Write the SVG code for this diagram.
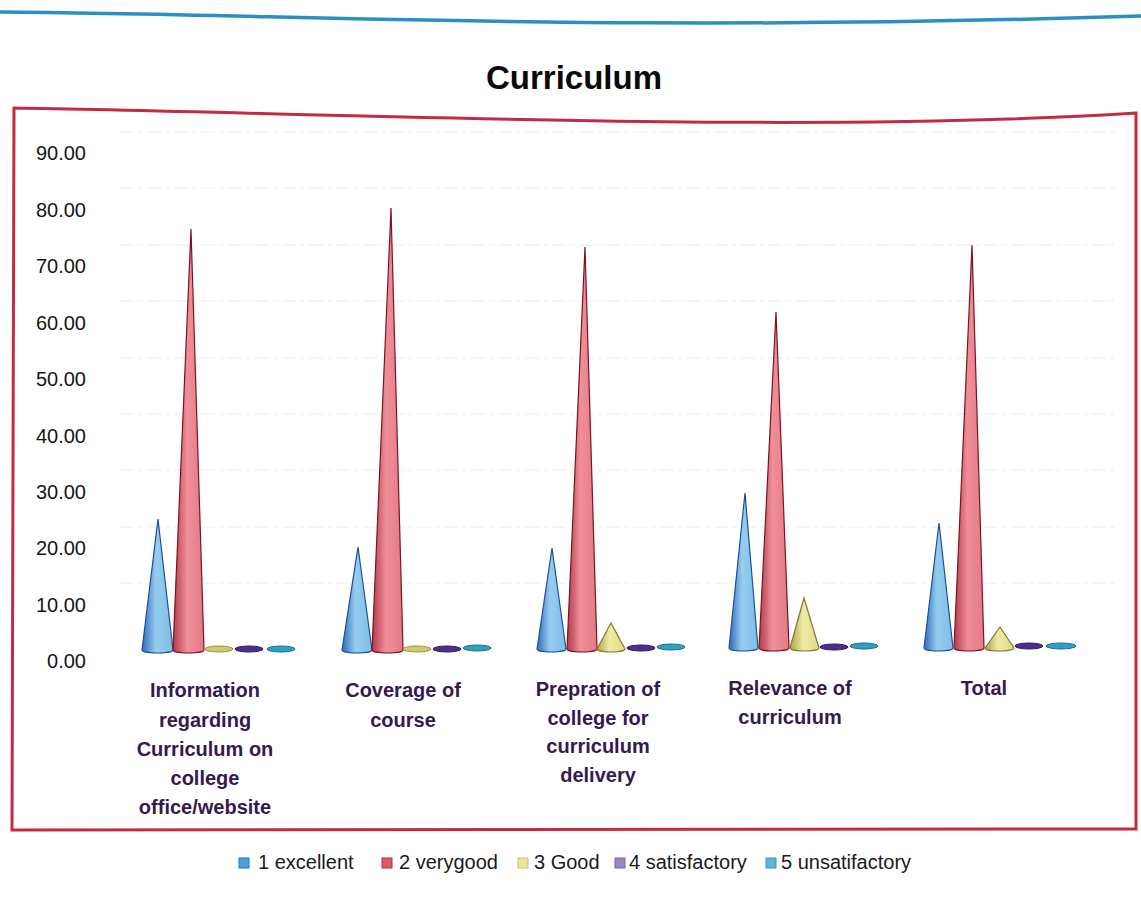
<svg xmlns="http://www.w3.org/2000/svg" width="1141" height="904" viewBox="0 0 1141 904">
<defs>
<linearGradient id="gB" x1="0" y1="0" x2="1" y2="0"><stop offset="0" stop-color="#2f6db8"/><stop offset="0.45" stop-color="#96cdef"/><stop offset="1" stop-color="#7dbde6"/></linearGradient>
<linearGradient id="gR" x1="0" y1="0" x2="1" y2="0"><stop offset="0" stop-color="#b23a4c"/><stop offset="0.45" stop-color="#f08f98"/><stop offset="1" stop-color="#e27a86"/></linearGradient>
<linearGradient id="gY" x1="0" y1="0" x2="1" y2="0"><stop offset="0" stop-color="#a9a448"/><stop offset="0.45" stop-color="#efeba4"/><stop offset="1" stop-color="#dcd88a"/></linearGradient>
</defs>
<style>
.ax{font-family:"Liberation Sans",Arial,sans-serif;font-size:20px;fill:#151515;text-anchor:end}
.cat{font-family:"Liberation Sans",Arial,sans-serif;font-size:20px;font-weight:bold;fill:#35194f;text-anchor:middle}
.lg{font-family:"Liberation Sans",Arial,sans-serif;font-size:20px;fill:#1a1a1a}
.title{font-family:"Liberation Sans",Arial,sans-serif;font-size:33px;font-weight:bold;fill:#0a0a0a;text-anchor:middle}
.grid{stroke:#efeaea;stroke-width:1.2;stroke-dasharray:14 5 3 5;fill:none}
.cb{fill:url(#gB);stroke:#1f4f96;stroke-width:1.2}
.cr{fill:url(#gR);stroke:#7a1424;stroke-width:1.2}
.cy{fill:url(#gY);stroke:#7f7a30;stroke-width:1.2}
.ey{fill:#cfcb6a;stroke:#9a9640;stroke-width:1}
.ep{fill:#4b2f88;stroke:#2e1a60;stroke-width:1}
.et{fill:#2f9fc2;stroke:#1c6f90;stroke-width:1}
</style>
<rect width="1141" height="904" fill="#ffffff"/>
<path id="topline" d="M0,12 C300,14 600,33 1141,16" fill="none" stroke="#2a8fc2" stroke-width="3.5"/>
<text class="title" x="574" y="89">Curriculum</text>
<path id="frame" d="M14,108 C300,112 800,135 1136,113 L1136,829 L12,830 Z" fill="none" stroke="#c42a40" stroke-width="3"/>
<g id="gridlines">
<path class="grid" d="M120,132 H1115"/>
<path class="grid" d="M120,188 H1115"/>
<path class="grid" d="M120,245 H1115"/>
<path class="grid" d="M120,301 H1115"/>
<path class="grid" d="M120,358 H1115"/>
<path class="grid" d="M120,414 H1115"/>
<path class="grid" d="M120,470 H1115"/>
<path class="grid" d="M120,527 H1115"/>
<path class="grid" d="M120,583 H1115"/>
</g>
<g id="yaxis">
<text class="ax" x="86" y="160">90.00</text>
<text class="ax" x="86" y="217">80.00</text>
<text class="ax" x="86" y="273">70.00</text>
<text class="ax" x="86" y="330">60.00</text>
<text class="ax" x="86" y="386">50.00</text>
<text class="ax" x="86" y="443">40.00</text>
<text class="ax" x="86" y="499">30.00</text>
<text class="ax" x="86" y="555">20.00</text>
<text class="ax" x="86" y="612">10.00</text>
<text class="ax" x="86" y="668">0.00</text>
</g>
<g id="cat1">
<path class="cb" d="M142,650 L158,519 L173,650 A15.5,3 0 0 1 142,650 Z"/>
<path class="cr" d="M173,650 L191,229 L204,650 A15.5,3 0 0 1 173,650 Z"/>
<ellipse class="ey" cx="219" cy="649" rx="14" ry="3"/>
<ellipse class="ep" cx="249" cy="649" rx="14" ry="3"/>
<ellipse class="et" cx="281" cy="649" rx="14" ry="3"/>
<text class="cat" x="205" y="697">Information</text>
<text class="cat" x="205" y="727">regarding</text>
<text class="cat" x="205" y="756">Curriculum on</text>
<text class="cat" x="205" y="785">college</text>
<text class="cat" x="205" y="814">office/website</text>
</g>
<g id="cat2">
<path class="cb" d="M342,650 L358,547 L372,650 A15,3 0 0 1 342,650 Z"/>
<path class="cr" d="M372,650 L391,208 L403,650 A15.5,3 0 0 1 372,650 Z"/>
<ellipse class="ey" cx="417" cy="649" rx="14" ry="3"/>
<ellipse class="ep" cx="447" cy="649" rx="14" ry="3"/>
<ellipse class="et" cx="477" cy="648" rx="14" ry="3"/>
<text class="cat" x="403" y="697">Coverage of</text>
<text class="cat" x="403" y="727">course</text>
</g>
<g id="cat3">
<path class="cb" d="M537,649 L552,548 L566,649 A14.5,3 0 0 1 537,649 Z"/>
<path class="cr" d="M567,649 L585,247 L597,649 A15,3 0 0 1 567,649 Z"/>
<path class="cy" d="M597,649 L611,623 L625,649 A14,3 0 0 1 597,649 Z"/>
<ellipse class="ep" cx="641" cy="648" rx="14" ry="3"/>
<ellipse class="et" cx="671" cy="647" rx="14" ry="3"/>
<text class="cat" x="598" y="696">Prepration of</text>
<text class="cat" x="598" y="725">college for</text>
<text class="cat" x="598" y="753">curriculum</text>
<text class="cat" x="598" y="782">delivery</text>
</g>
<g id="cat4">
<path class="cb" d="M729,648 L745,493 L758,648 A14.5,3 0 0 1 729,648 Z"/>
<path class="cr" d="M759,648 L776,312 L789,648 A15,3 0 0 1 759,648 Z"/>
<path class="cy" d="M790,648 L804,598 L819,648 A14.5,3 0 0 1 790,648 Z"/>
<ellipse class="ep" cx="834" cy="647" rx="14" ry="3"/>
<ellipse class="et" cx="864" cy="646" rx="14" ry="3"/>
<text class="cat" x="790" y="695">Relevance of</text>
<text class="cat" x="790" y="724">curriculum</text>
</g>
<g id="cat5">
<path class="cb" d="M924,648 L939,523 L953,648 A14.5,3 0 0 1 924,648 Z"/>
<path class="cr" d="M954,648 L972,245 L984,648 A15,3 0 0 1 954,648 Z"/>
<path class="cy" d="M985,648 L1000,627 L1014,648 A14.5,3 0 0 1 985,648 Z"/>
<ellipse class="ep" cx="1029" cy="646" rx="14" ry="3"/>
<ellipse class="et" cx="1061" cy="646" rx="15" ry="3"/>
<text class="cat" x="984" y="695">Total</text>
</g>
<g id="legend">
<rect x="239" y="858" width="10" height="10" fill="#4aa0d8" stroke="#2a70b0" stroke-width="1"/>
<text class="lg" x="258" y="869">1  excellent</text>
<rect x="382" y="858" width="10" height="10" fill="#e05a66" stroke="#b03040" stroke-width="1"/>
<text class="lg" x="399" y="869">2  verygood</text>
<rect x="518" y="858" width="10" height="10" fill="#e8e49a" stroke="#c8c470" stroke-width="1"/>
<text class="lg" x="534" y="869">3 Good</text>
<rect x="615" y="858" width="10" height="10" fill="#9a86c0" stroke="#7a64a8" stroke-width="1"/>
<text class="lg" x="629" y="869">4 satisfactory</text>
<rect x="766" y="858" width="10" height="10" fill="#5ab8d0" stroke="#3a98b8" stroke-width="1"/>
<text class="lg" x="781" y="869">5 unsatifactory</text>
</g>
</svg>
